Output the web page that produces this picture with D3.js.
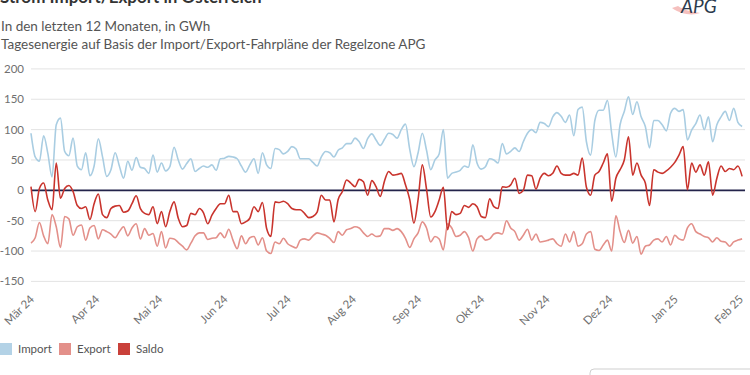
<!DOCTYPE html>
<html><head><meta charset="utf-8">
<script src="https://cdn.jsdelivr.net/npm/d3@7"></script>
<style>body{margin:0;background:#fff;overflow:hidden}svg{display:block;font-family:Lato,'Open Sans',sans-serif}</style>
</head><body><svg id="c" width="750" height="375"></svg>
<script>
const title = "Strom Import/Export in Österreich";
const subtitle1 = "In den letzten 12 Monaten, in GWh";
const subtitle2 = "Tagesenergie auf Basis der Import/Export-Fahrpläne der Regelzone APG";
const startDate = "2024-03-01";
const stepDays = 2;
const importVals = [94,55,48,90,61,22,108,119,64,57,86,40,34,62,24,40,85,55,23,34,62,40,20,48,33,54,38,36,28,58,30,45,32,39,71,50,35,44,52,31,36,40,38,
42,33,52,53,56,55,52,40,30,42,52,28,62,42,36,69,67,60,64,72,68,52,52,52,46,40,55,64,62,55,66,70,77,77,86,80,69,85,93,83,74,84,
94,92,86,100,109,68,39,62,94,66,34,50,60,100,20,28,30,33,40,38,75,45,35,39,52,50,45,77,60,64,70,64,80,94,100,95,112,110,105,121,128,122,
112,124,90,133,137,80,58,115,132,132,148,94,55,108,130,154,125,146,121,105,70,115,115,108,98,127,135,130,133,83,99,110,124,100,121,80,108,121,130,115,135,112,105];
const exportVals = [-87,-78,-53,-75,-88,-40,-60,-94,-43,-47,-74,-60,-57,-82,-62,-58,-80,-65,-68,-72,-78,-68,-60,-75,-62,-55,-80,-63,-74,-71,-92,-68,-95,-79,-80,-86,-92,-98,-87,-75,-70,-70,-81,
-79,-78,-70,-78,-64,-82,-96,-75,-88,-78,-76,-90,-78,-100,-104,-85,-88,-79,-88,-92,-95,-82,-80,-82,-75,-70,-72,-74,-79,-86,-68,-74,-65,-63,-60,-62,-70,-76,-72,-76,-75,-63,
-63,-66,-63,-68,-79,-94,-80,-70,-52,-62,-85,-76,-80,-98,-55,-62,-76,-74,-68,-78,-100,-80,-75,-82,-80,-72,-70,-72,-50,-62,-68,-82,-74,-64,-82,-72,-85,-84,-82,-80,-88,-92,
-72,-85,-68,-92,-88,-72,-68,-97,-99,-90,-82,-100,-42,-68,-86,-66,-87,-76,-105,-92,-90,-82,-80,-85,-76,-90,-74,-80,-82,-62,-55,-68,-72,-76,-78,-85,-78,-84,-85,-92,-85,-82,-80];
const saldoVals = [6,-35,3,12,-16,-32,45,-13,3,8,-2,-25,-30,-27,-48,-22,-6,-40,-45,-30,-26,-25,-36,-34,-22,-9,-30,-38,-40,-27,-55,-35,-60,-35,-19,-46,-60,-58,-38,-40,-30,-37,-55,
-41,-30,-22,-22,-8,-35,-35,-55,-52,-46,-27,-35,-20,-63,-76,-19,-20,-18,-22,-30,-32,-32,-38,-45,-43,-36,-8,-16,-16,-52,-15,-2,17,12,6,18,14,-8,16,6,-10,15,
31,25,26,28,9,-15,-54,-15,42,2,-44,-35,-16,5,-65,-35,-40,-38,-25,-28,-22,-27,-43,-45,-14,-27,-30,6,5,9,20,-5,0,25,24,2,20,28,24,28,40,28,
25,25,28,25,53,5,-8,25,31,45,60,-18,20,34,50,88,25,45,25,12,-25,34,30,28,32,38,46,58,72,1,45,30,42,25,47,-8,20,40,31,36,34,40,23];
const yTicks = [200,150,100,50,0,-50,-100,-150];
const monthTicks = ["2024-03-01","2024-04-01","2024-05-01","2024-06-01","2024-07-01","2024-08-01","2024-09-01","2024-10-01","2024-11-01","2024-12-01","2025-01-01","2025-02-01"];
const monthLabels = ["Mär 24","Apr 24","Mai 24","Jun 24","Jul 24","Aug 24","Sep 24","Okt 24","Nov 24","Dez 24","Jan 25","Feb 25"];
const seriesNames = ["Import","Export","Saldo"];
const seriesColors = ["#a9cde2","#e3908a","#c9342d"];
const legendColors = ["#b3d2e6","#e3908a","#c9403a"];

const parse = d3.utcParse("%Y-%m-%d");
const t0 = parse(startDate);
const dates = importVals.map((_, i) => d3.utcDay.offset(t0, i * stepDays));
const svg = d3.select("#c");

const x = d3.scaleUtc().domain([parse(monthTicks[0]), parse(monthTicks[monthTicks.length - 1])]).range([31, 740]);
const y = d3.scaleLinear().domain([-150, 200]).range([281.4, 68.9]);
const gx0 = 31, gx1 = 745;

svg.append("g").selectAll("line").data(yTicks.filter(v => v !== 0)).join("line")
  .attr("x1", gx0).attr("x2", gx1).attr("y1", d => y(d)).attr("y2", d => y(d))
  .attr("stroke", "#e3e3e3").attr("stroke-width", 1);

svg.append("g").selectAll("text").data(yTicks).join("text")
  .attr("x", 24).attr("y", d => y(d)).attr("dy", "0.35em").attr("text-anchor", "end")
  .attr("font-size", 11.5).attr("fill", "#707070").text(d => d);

svg.append("g").selectAll("text").data(monthTicks).join("text")
  .attr("transform", d => `translate(${x(parse(d)) + 4},300) rotate(-45)`)
  .attr("text-anchor", "end").attr("font-size", 11.5).attr("fill", "#707070")
  .text((d, i) => monthLabels[i]);

const line = d3.line().x((d, i) => x(dates[i])).y(d => y(d)).curve(d3.curveMonotoneX);
[importVals, exportVals].forEach((vals, k) => {
  svg.append("path").datum(vals).attr("d", line).attr("fill", "none")
    .attr("stroke", seriesColors[k]).attr("stroke-width", 1.6).attr("stroke-linejoin", "round");
});
svg.append("line").attr("x1", gx0).attr("x2", gx1).attr("y1", y(0)).attr("y2", y(0))
  .attr("stroke", "#23234a").attr("stroke-width", 1.7);
svg.append("path").datum(saldoVals).attr("d", line).attr("fill", "none")
  .attr("stroke", seriesColors[2]).attr("stroke-width", 1.6).attr("stroke-linejoin", "round");

svg.append("text").attr("x", 0).attr("y", 3).attr("font-size", 17).attr("font-weight", "bold")
  .attr("fill", "#333").text(title);
svg.append("text").attr("x", 1).attr("y", 31).attr("font-size", 13.5).attr("fill", "#555").text(subtitle1);
svg.append("text").attr("x", 1).attr("y", 49).attr("font-size", 13.5).attr("fill", "#555").text(subtitle2);

svg.append("path").attr("d", "M672,8 C680,14 692,16 700,13 C695,12 685,11 678,6 Z").attr("fill", "#f3b0ae").attr("opacity", 0.8);
svg.append("text").attr("x", 681).attr("y", 13).attr("font-size", 19).attr("font-style", "italic")
  .attr("fill", "#2c3b4d").text("APG");

const lg = svg.append("g");
const lx = [0, 59, 118];
seriesNames.forEach((n, i) => {
  lg.append("rect").attr("x", lx[i]).attr("y", 343).attr("width", 12).attr("height", 12).attr("fill", legendColors[i]);
  lg.append("text").attr("x", lx[i] + 18).attr("y", 353).attr("font-size", 11.5).attr("fill", "#555").text(n);
});

svg.append("rect").attr("x", 590).attr("y", 369).attr("width", 170).attr("height", 20).attr("rx", 4)
  .attr("fill", "#fff").attr("stroke", "#cfcfcf");
</script></body></html>
